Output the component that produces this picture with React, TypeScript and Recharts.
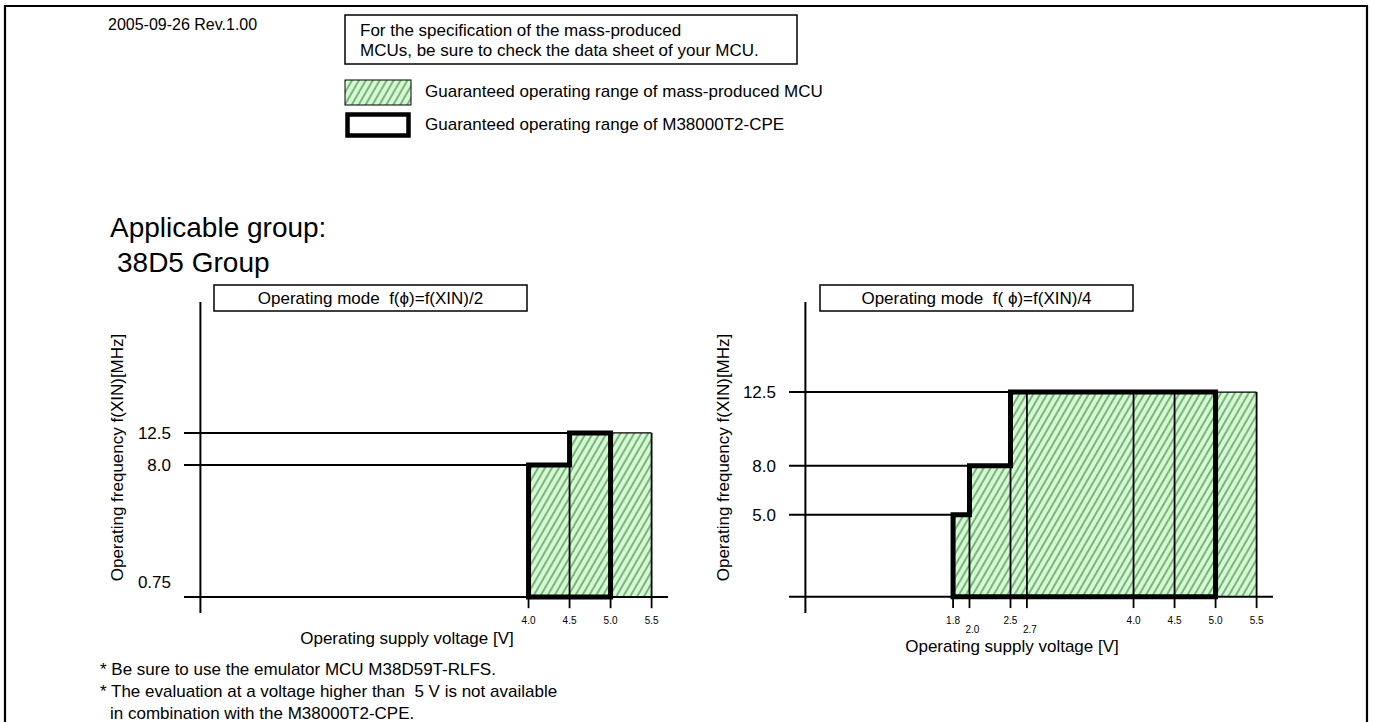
import React from 'react';
import { ComposedChart, Area, Line, XAxis, YAxis, ReferenceLine } from 'recharts';

const FONT = '"Liberation Sans", Arial, Helvetica, sans-serif';

// ---------- data ----------
// Left chart: Operating mode f(phi)=f(XIN)/2
const leftVoltages = [4.0, 4.5, 5.0, 5.5];
const leftMassFreq = [8.0, 12.5, 12.5];
const leftCpeVoltages = [4.0, 4.5, 5.0];
const leftCpeFreq = [8.0, 12.5];
const leftFreqTicks = [0.75, 8.0, 12.5];

// Right chart: Operating mode f(phi)=f(XIN)/4
const rightVoltages = [1.8, 2.0, 2.5, 2.7, 4.0, 4.5, 5.0, 5.5];
const rightMassFreq = [5.0, 8.0, 12.5, 12.5, 12.5, 12.5, 12.5];
const rightCpeVoltages = [1.8, 2.0, 2.5, 5.0];
const rightCpeFreq = [5.0, 8.0, 12.5];
const rightFreqTicks = [5.0, 8.0, 12.5];
const rightLoweredTicks = [2.0, 2.7];

const headerDate = '2005-09-26 Rev.1.00';
const noteLines = [
  'For the specification of the mass-produced',
  'MCUs, be sure to check the data sheet of your MCU.',
];
const legendLabels = [
  'Guaranteed operating range of mass-produced MCU',
  'Guaranteed operating range of M38000T2-CPE',
];
const groupLines = ['Applicable group:', '38D5 Group'];
const modeTitles = ['Operating mode  f(\u03d5)=f(XIN)/2', 'Operating mode  f( \u03d5)=f(XIN)/4'];
const xTitle = 'Operating supply voltage [V]';
const yTitle = 'Operating frequency f(XIN)[MHz]';
const footnotes = [
  '* Be sure to use the emulator MCU M38D59T-RLFS.',
  '* The evaluation at a voltage higher than  5 V is not available',
  'in combination with the M38000T2-CPE.',
];

// ---------- axis configuration ----------
const X_DOMAIN: [number, number] = [-0.2, 5.7];
const Y_DOMAIN: [number, number] = [-1, 18];
const TICK_DIP = -0.7;
// the left chart's frequency axis is not drawn to a linear scale
const LEFT_Y_KNOTS = [-1, 0, 0.75, 8, 12.5, 18];
const LEFT_Y_FRACTIONS = [0, 0.0514, 0.0997, 0.476, 0.579, 1];

function piecewiseScale(knots: number[], fracs: number[]): any {
  let dom: number[] = [knots[0], knots[knots.length - 1]];
  let rng: number[] = [0, 1];
  const s: any = (v: number) => {
    let i = 0;
    while (i < knots.length - 2 && v > knots[i + 1]) i++;
    const t = (v - knots[i]) / (knots[i + 1] - knots[i]);
    const f = fracs[i] + t * (fracs[i + 1] - fracs[i]);
    return rng[0] + f * (rng[rng.length - 1] - rng[0]);
  };
  s.domain = (d?: number[]) => {
    if (d) { dom = d; return s; }
    return dom;
  };
  s.range = (r?: number[]) => {
    if (r) { rng = r; return s; }
    return rng;
  };
  s.copy = () => piecewiseScale(knots, fracs).domain(dom).range(rng);
  s.ticks = () => knots.slice();
  s.clamp = () => s;
  s.nice = () => s;
  return s;
}

// ---------- builders ----------
function stepData(vs: number[], fs: number[]) {
  const pts = fs.map((f, i) => ({ v: vs[i], f }));
  pts.push({ v: vs[vs.length - 1], f: fs[fs.length - 1] });
  return pts;
}
function outlineData(vs: number[], fs: number[]) {
  const pts = [{ v: vs[0], f: 0 }];
  fs.forEach((f, i) => {
    pts.push({ v: vs[i], f });
    pts.push({ v: vs[i + 1], f });
  });
  pts.push({ v: vs[vs.length - 1], f: 0 });
  pts.push({ v: vs[0], f: 0 });
  return pts;
}
function separators(vs: number[], fs: number[]) {
  return vs.map((v, i) => ({ v, top: Math.max(i > 0 ? fs[i - 1] : 0, i < fs.length ? fs[i] : 0) }));
}
function guides(vs: number[], fs: number[]) {
  const out: { v: number; level: number }[] = [];
  fs.forEach((f, i) => {
    if (!out.some((g) => g.level === f)) out.push({ v: vs[i], level: f });
  });
  return out;
}

const fmtFreq = (v: number) => (v === 0.75 ? '0.75' : v.toFixed(1));

function Hatch({ id }: { id: string }) {
  return (
    <pattern id={id} patternUnits="userSpaceOnUse" width="6" height="6" patternTransform="rotate(30)">
      <rect width="6" height="6" fill="#ccffcc" />
      <line x1="3" y1="-1" x2="3" y2="7" stroke="#333" strokeWidth="0.85" />
    </pattern>
  );
}

type PanelProps = {
  voltages: number[];
  massFreq: number[];
  cpeVoltages: number[];
  cpeFreq: number[];
  freqTicks: number[];
  lowered: number[];
  hatchId: string;
  yScale?: any;
  yTitleOffset: number;
  xTitleOffset: number;
};

function Panel(p: PanelProps) {
  const area = stepData(p.voltages, p.massFreq);
  const outline = outlineData(p.cpeVoltages, p.cpeFreq);
  const seps = separators(p.voltages, p.massFreq);
  const gl = guides(p.voltages, p.massFreq);
  const VoltTick = (t: any) => {
    const low = p.lowered.includes(t.payload.value);
    return (
      <text x={t.x + (low ? 3 : 0)} y={t.y + (low ? 20 : 11)} textAnchor="middle" fontSize={10} fill="#000">
        {Number(t.payload.value).toFixed(1)}
      </text>
    );
  };
  return (
    <ComposedChart width={640} height={400} margin={{ top: 32, right: 32, bottom: 17, left: 44 }}>
      <defs>
        <Hatch id={p.hatchId} />
      </defs>
      <XAxis
        type="number"
        dataKey="v"
        domain={X_DOMAIN}
        allowDataOverflow
        ticks={p.voltages}
        interval={0}
        axisLine={false}
        tickLine={false}
        tickSize={0}
        tickMargin={0}
        height={40}
        tick={VoltTick}
        label={{ value: xTitle, position: 'insideTop', offset: p.xTitleOffset, dx: -19, fontSize: 17, fill: '#000' }}
      />
      <YAxis
        type="number"
        dataKey="f"
        domain={Y_DOMAIN}
        allowDataOverflow
        scale={p.yScale ?? 'linear'}
        ticks={p.freqTicks}
        interval={0}
        axisLine={false}
        tickLine={false}
        tickSize={0}
        tickMargin={13}
        width={80}
        tickFormatter={fmtFreq}
        tick={{ fontSize: 17, fill: '#000' }}
        label={{
          value: yTitle,
          angle: -90,
          position: 'insideLeft',
          offset: p.yTitleOffset,
          fontSize: 17,
          fill: '#000',
          style: { textAnchor: 'middle' },
        }}
      />
      <Area
        data={area}
        dataKey="f"
        type="stepAfter"
        stroke="#000"
        strokeWidth={1.3}
        fill={`url(#${p.hatchId})`}
        fillOpacity={1}
        baseValue={0}
        dot={false}
        activeDot={false}
        isAnimationActive={false}
      />
      <ReferenceLine x={0} stroke="#000" strokeWidth={2} ifOverflow="visible" />
      <ReferenceLine y={0} stroke="#000" strokeWidth={2} ifOverflow="visible" />
      {gl.map((g) => (
        <ReferenceLine
          key={`g${g.level}`}
          segment={[{ x: X_DOMAIN[0], y: g.level }, { x: g.v, y: g.level }]}
          stroke="#000"
          strokeWidth={2}
          ifOverflow="visible"
        />
      ))}
      {seps.map((s) => (
        <ReferenceLine
          key={`s${s.v}`}
          segment={[{ x: s.v, y: TICK_DIP }, { x: s.v, y: s.top }]}
          stroke="#000"
          strokeWidth={1.8}
          ifOverflow="visible"
        />
      ))}
      <Line
        data={outline}
        dataKey="f"
        type="linear"
        stroke="#000"
        strokeWidth={5}
        strokeLinejoin="miter"
        strokeLinecap="square"
        dot={false}
        activeDot={false}
        isAnimationActive={false}
      />
    </ComposedChart>
  );
}

export default function App() {
  const txt = { fontFamily: FONT, fill: '#000', style: { whiteSpace: 'pre' as const } };
  return (
    <div
      style={{
        position: 'absolute',
        left: 0,
        top: 0,
        width: 1375,
        height: 722,
        overflow: 'hidden',
        background: '#fff',
        fontFamily: FONT,
      }}
    >
      <svg width={1375} height={722} style={{ position: 'absolute', left: 0, top: 0 }}>
        <defs>
          <Hatch id="hatchLegend" />
        </defs>
        <polyline points="5,722 5,6 1367,6 1367,722" fill="none" stroke="#000" strokeWidth={2.2} />
        <text x={108} y={24} fontSize={16} dominantBaseline="central" {...txt}>{headerDate}</text>
        <rect x={345} y={15} width={452} height={49} fill="#fff" stroke="#000" strokeWidth={1.5} />
        {noteLines.map((l, i) => (
          <text key={l} x={360} y={30 + i * 20} fontSize={17} dominantBaseline="central" {...txt}>{l}</text>
        ))}
        <rect x={345} y={80} width={66} height={25} fill="url(#hatchLegend)" stroke="#000" strokeWidth={1} />
        <text x={425} y={91} fontSize={17} dominantBaseline="central" {...txt}>{legendLabels[0]}</text>
        <rect x={347.5} y={114.5} width={61} height={21} fill="#fff" stroke="#000" strokeWidth={4.5} />
        <text x={425} y={124} fontSize={17} dominantBaseline="central" {...txt}>{legendLabels[1]}</text>
        <text x={110} y={227} fontSize={28} dominantBaseline="central" {...txt}>{groupLines[0]}</text>
        <text x={117} y={262} fontSize={28} dominantBaseline="central" {...txt}>{groupLines[1]}</text>
        <rect x={214} y={285} width={313} height={26} fill="#fff" stroke="#000" strokeWidth={1.5} />
        <text x={370.5} y={298} fontSize={17} textAnchor="middle" dominantBaseline="central" {...txt}>{modeTitles[0]}</text>
        <rect x={820} y={285} width={313} height={26} fill="#fff" stroke="#000" strokeWidth={1.5} />
        <text x={976.5} y={298} fontSize={17} textAnchor="middle" dominantBaseline="central" {...txt}>{modeTitles[1]}</text>
        {footnotes.map((l, i) => (
          <text key={l} x={i === 2 ? 110 : 100} y={669 + i * 22} fontSize={17} dominantBaseline="central" {...txt}>{l}</text>
        ))}
      </svg>
      <div style={{ position: 'absolute', left: 60, top: 270 }}>
        <Panel
          voltages={leftVoltages}
          massFreq={leftMassFreq}
          cpeVoltages={leftCpeVoltages}
          cpeFreq={leftCpeFreq}
          freqTicks={leftFreqTicks}
          lowered={[]}
          hatchId="hatchLeft"
          yScale={piecewiseScale(LEFT_Y_KNOTS, LEFT_Y_FRACTIONS)}
          yTitleOffset={13}
          xTitleOffset={19}
        />
      </div>
      <div style={{ position: 'absolute', left: 665, top: 270 }}>
        <Panel
          voltages={rightVoltages}
          massFreq={rightMassFreq}
          cpeVoltages={rightCpeVoltages}
          cpeFreq={rightCpeFreq}
          freqTicks={rightFreqTicks}
          lowered={rightLoweredTicks}
          hatchId="hatchRight"
          yTitleOffset={14}
          xTitleOffset={27}
        />
      </div>
    </div>
  );
}
